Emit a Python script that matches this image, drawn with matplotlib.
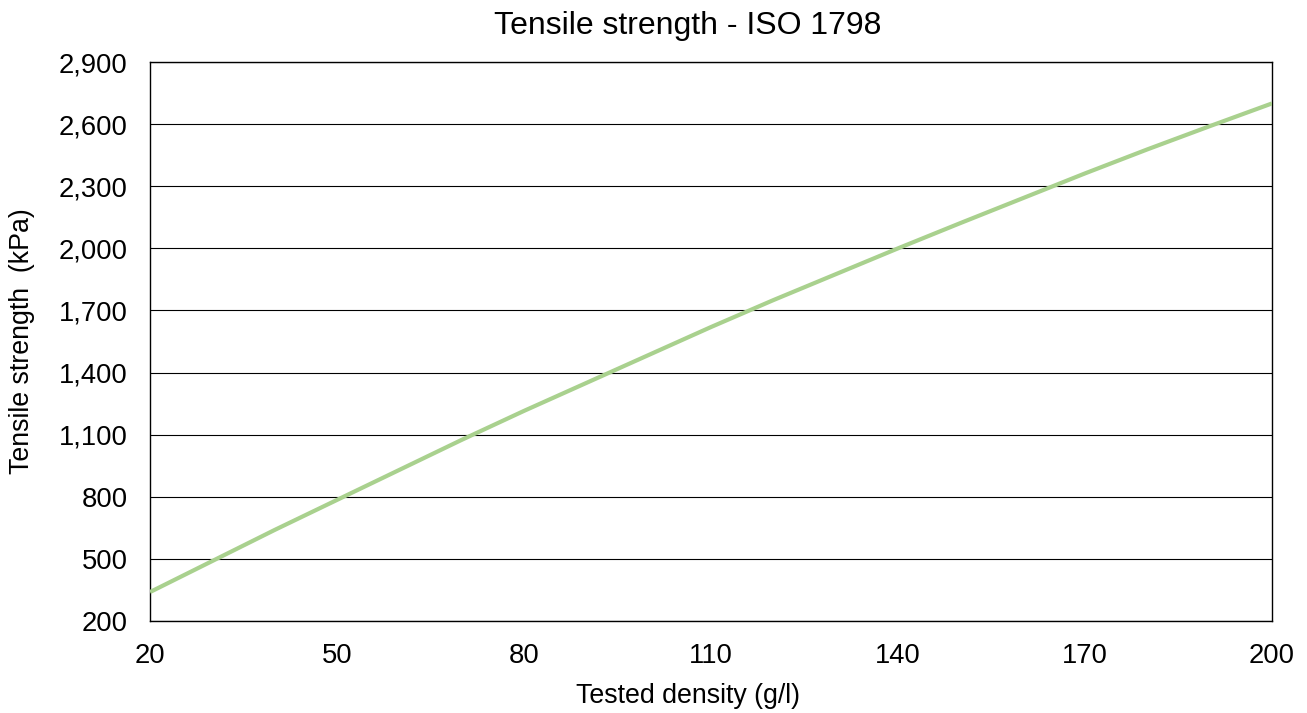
import matplotlib
matplotlib.use('Agg')
import matplotlib.pyplot as plt
from matplotlib.ticker import FuncFormatter

plt.rcParams['font.family'] = ['Liberation Sans', 'DejaVu Sans']

# Values
density = [20, 30, 40, 50, 60, 70, 80, 90, 100, 110, 120, 130, 140, 150, 160, 170, 180, 190, 200]
tensile = [340, 490, 640, 785, 930, 1075, 1215, 1350, 1485, 1620, 1750, 1875, 2000, 2122, 2242, 2362, 2478, 2590, 2700]

x_ticks = [20, 50, 80, 110, 140, 170, 200]
y_ticks = [200, 500, 800, 1100, 1400, 1700, 2000, 2300, 2600, 2900]

fig = plt.figure(figsize=(13.07, 7.13), dpi=100)
ax = fig.add_axes([0.1148, 0.129, 0.8584, 0.784])

ax.plot(density, tensile, color='#A9D18E', linewidth=3, solid_capstyle='butt', zorder=3)

ax.set_xlim(20, 200)
ax.set_ylim(200, 2900)
ax.set_xticks(x_ticks)
ax.set_yticks(y_ticks)
ax.yaxis.set_major_formatter(FuncFormatter(lambda v, p: f'{int(v):,}'))
ax.grid(axis='y', color='black', linewidth=0.8, zorder=1)
ax.tick_params(axis='x', length=0, labelsize=19.7, pad=16)
ax.tick_params(axis='y', length=0, labelsize=19.7, pad=16)
for s in ax.spines.values():
    s.set_color('black')
    s.set_linewidth(1.0)

# title and x label sit a little left of the plot centre in the original
ax.set_title('Tensile strength - ISO 1798', fontsize=23, pad=20, x=0.4795)
ax.set_xlabel('Tested density (g/l)', fontsize=19.3, labelpad=10, x=0.4795)
ax.set_ylabel('Tensile strength  (kPa)', fontsize=19.3, labelpad=17)

fig.savefig('out.png', dpi=100)
